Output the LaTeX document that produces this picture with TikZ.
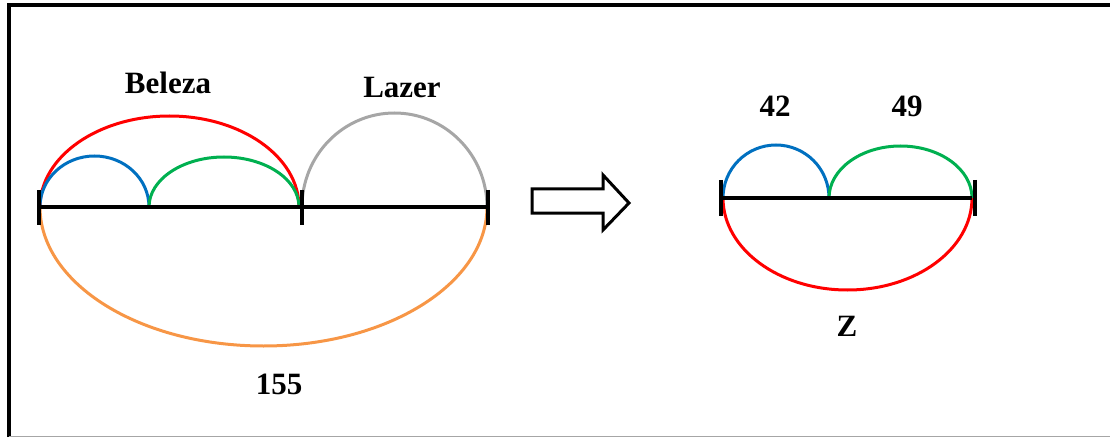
\documentclass[tikz,border=0pt]{standalone}
\usepackage{fontspec}
\setmainfont{Liberation Serif}
\usepackage{tikz}
\usetikzlibrary{calc}
\usepackage{xcolor}

\definecolor{arcred}{RGB}{255,0,0}
\definecolor{arcblue}{RGB}{0,112,192}
\definecolor{arcgreen}{RGB}{0,176,80}
\definecolor{arcgray}{RGB}{166,166,166}
\definecolor{arcorange}{RGB}{247,150,70}

\tikzset{
  seg/.style={line width=4pt},
  tickmark/.style={line width=4pt},
  bow/.style={line width=3pt},
  lbl/.style={font=\fontsize{31}{36}\selectfont\bfseries},
}

\begin{document}
\begin{tikzpicture}[x=1pt, y=1pt]
  \useasboundingbox (0,0) rectangle (1110,437);
  \draw[line width=4pt] (9,0) -- (9,431.5) -- (1110,431.5);
  \draw[arcgray, line width=1pt] (9,0.5) -- (1110,0.5);

  % left part
  \coordinate (a0) at (40,230);
  \coordinate (a1) at (149,230);
  \coordinate (a2) at (299,230);
  \coordinate (a3) at (302,230);
  \coordinate (a4) at (487,230);
  \draw[bow, arcorange] (a0) arc[start angle=180, end angle=360, x radius=223.5, y radius=139];
  \draw[bow, arcred] (a0) arc[start angle=180, end angle=0, x radius=129.5, y radius=91];
  \draw[bow, arcblue] (a0) arc[start angle=180, end angle=0, x radius=54.5, y radius=51];
  \draw[bow, arcgreen] (a1) arc[start angle=180, end angle=0, x radius=75, y radius=50];
  \draw[bow, arcgray] (a3) arc[start angle=180, end angle=0, x radius=92.5, y radius=94];
  \draw[seg] (a0) -- (a4);
  \draw[tickmark] ($(a0)+(-1.5,17)$) -- ($(a0)+(-1.5,-18)$);
  \draw[tickmark] ($(a3)+(0,17)$) -- ($(a3)+(0,-18)$);
  \draw[tickmark] ($(a4)+(1,17)$) -- ($(a4)+(1,-18)$);
  \node[lbl] (beleza) at (168,354) {Beleza};
  \node[lbl] (lazer) at (402,349) {Lazer};
  \node[lbl] (total) at (279,53) {155};

  % arrow
  \draw[line width=3pt] (532,248) -- (603,248) -- (603,262) -- (629,234)
    -- (603,207) -- (603,224) -- (532,224) -- cycle;

  % right part
  \coordinate (b0) at (723,239);
  \coordinate (b1) at (829,239);
  \coordinate (b2) at (972,239);
  \draw[bow, arcred] (b0) arc[start angle=180, end angle=360, x radius=124.5, y radius=92];
  \draw[bow, arcblue] (b0) arc[start angle=180, end angle=0, x radius=53, y radius=53];
  \draw[bow, arcgreen] (b1) arc[start angle=180, end angle=0, x radius=71.5, y radius=52];
  \draw[seg] (b0) -- (b2);
  \draw[tickmark] ($(b0)+(-2,18)$) -- ($(b0)+(-2,-18)$);
  \draw[tickmark] ($(b2)+(3,18)$) -- ($(b2)+(3,-18)$);
  \node[lbl] (left) at (775,331) {42};
  \node[lbl] (right) at (907,331) {49};
  \node[lbl] (z) at (847,111) {Z};
\end{tikzpicture}
\end{document}
